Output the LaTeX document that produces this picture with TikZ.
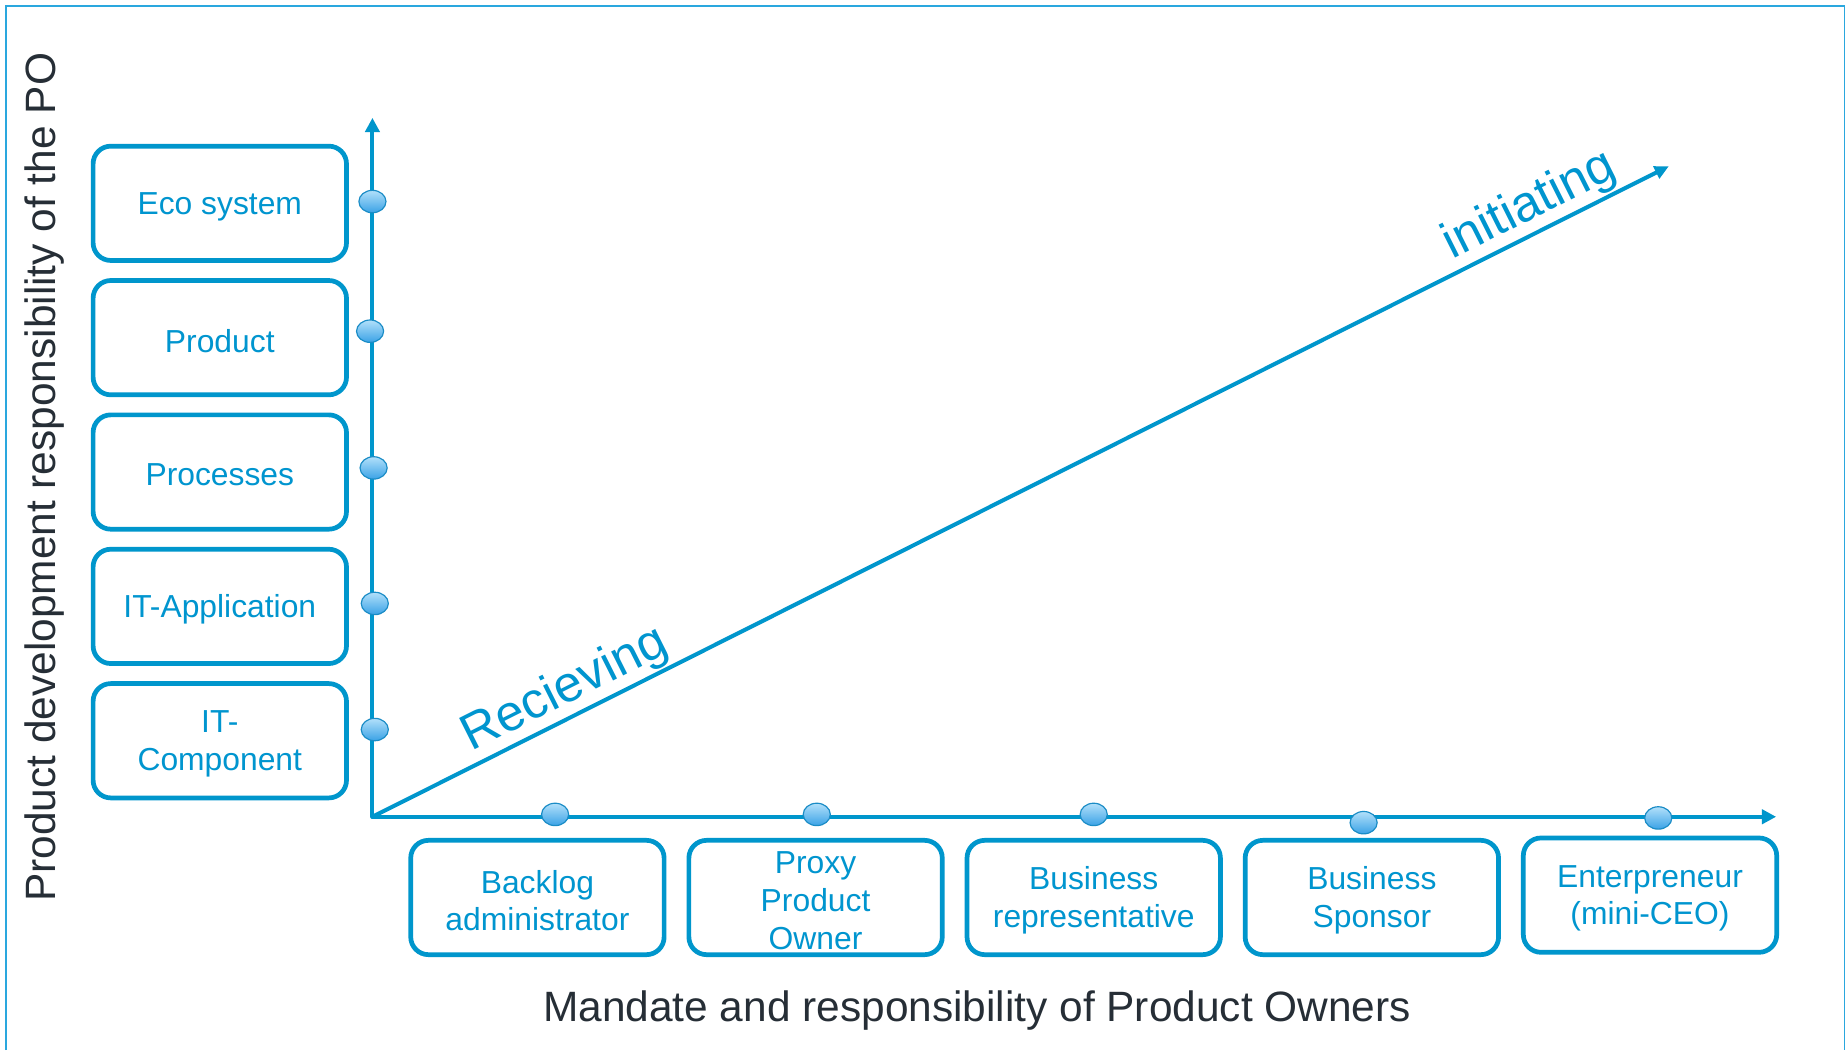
\documentclass[tikz,border=0pt]{standalone}
\usepackage{fontspec}
\setmainfont{Liberation Sans}
\usetikzlibrary{arrows.meta,shapes.geometric}
\definecolor{pblue}{HTML}{0096CC}
\definecolor{tblue}{HTML}{0095CF}
\definecolor{dark}{HTML}{262E36}
\definecolor{framec}{HTML}{2AA7DE}
\definecolor{dottop}{HTML}{B2E0FA}
\definecolor{dotbot}{HTML}{3AA2E6}
\definecolor{dotedge}{HTML}{1A8CC6}
\tikzset{
  rolebox/.style={draw=pblue, line width=2pt, rounded corners=7.5pt, minimum width=107.5pt, minimum height=48.5pt, inner sep=0pt},
  boxtext/.style={align=center, text=tblue, inner sep=0pt, yshift=-1.3pt, font=\fontsize{13.5}{16}\selectfont},
  axisline/.style={draw=pblue, line width=1.7pt, -{Triangle[length=6pt,width=6pt]}},
  diagline/.style={draw=pblue, line width=1.7pt, -{Triangle[length=6pt,width=5.5pt]}},
  dotmark/.style={ellipse, minimum width=11.5pt, minimum height=9.5pt, inner sep=0pt, draw=dotedge, line width=0.5pt, top color=dottop, bottom color=dotbot},
  axlabel/.style={text=dark, font=\fontsize{18}{21}\selectfont},
  diaglabel/.style={text=tblue, font=\fontsize{21.5}{25}\selectfont, inner sep=0.5pt},
  framestyle/.style={draw=framec, line width=0.8pt}
}
\begin{document}
\begin{tikzpicture}[x=0.5pt,y=-0.5pt]
\useasboundingbox (0,0) rectangle (1568,891);
\fill[white] (0,0) rectangle (1568,891);
\draw[framestyle] (5,891) -- (5,5) -- (1565,5) -- (1565,891);

% axes
\coordinate (O) at (316,693);
\coordinate (ytop) at (316,100);
\coordinate (xend) at (1507,693);
\coordinate (dend) at (1416,141);
\draw[axisline, line cap=round] (O) -- (ytop);
\draw[axisline, line cap=round] (O) -- (xend);
\draw[diagline] (O) -- (dend)
  node[diaglabel, sloped, pos=0.158, above] (recv) {Recieving}
  node[diaglabel, sloped, pos=0.902, above] (init) {initiating};

% left boxes
\node[rolebox, label={[boxtext]center:Eco system}] (eco)  at (186.5,172.5) {};
\node[rolebox, label={[boxtext]center:Product}] (prod) at (186.5,286.5) {};
\node[rolebox, label={[boxtext]center:Processes}] (proc) at (186.5,400.5) {};
\node[rolebox, label={[boxtext]center:IT-Application}] (itapp) at (186.5,514.5) {};
\node[rolebox, label={[boxtext]center:IT-\\Component}] (itcomp) at (186.5,628.5) {};

% bottom boxes
\node[rolebox, label={[boxtext]center:Backlog\\administrator}] (backlog) at (456,761.5) {};
\node[rolebox, label={[boxtext]center:Proxy\\Product\\Owner}] (proxy) at (692,761.5) {};
\node[rolebox, label={[boxtext]center:Business\\representative}] (busrep) at (928,761.5) {};
\node[rolebox, label={[boxtext]center:Business\\Sponsor}] (bussp) at (1164,761.5) {};
\node[rolebox, label={[boxtext]center:Enterpreneur\\(mini-CEO)}] (entre) at (1400,759.5) {};

% dots on vertical axis
\node[dotmark] (d1) at (316,171) {};
\node[dotmark] (d2) at (314,281) {};
\node[dotmark] (d3) at (317,397) {};
\node[dotmark] (d4) at (318,512) {};
\node[dotmark] (d5) at (318,619) {};
% dots on horizontal axis
\node[dotmark] (h1) at (471,691) {};
\node[dotmark] (h2) at (693,691) {};
\node[dotmark] (h3) at (928,691) {};
\node[dotmark] (h4) at (1157,698) {};
\node[dotmark] (h5) at (1407,694) {};

% axis labels
\node[axlabel, rotate=90] (ylab) at (38,405) {Product development responsibility of the PO};
\node[axlabel] (xlab) at (829,857) {Mandate and responsibility of Product Owners};
\end{tikzpicture}
\end{document}
